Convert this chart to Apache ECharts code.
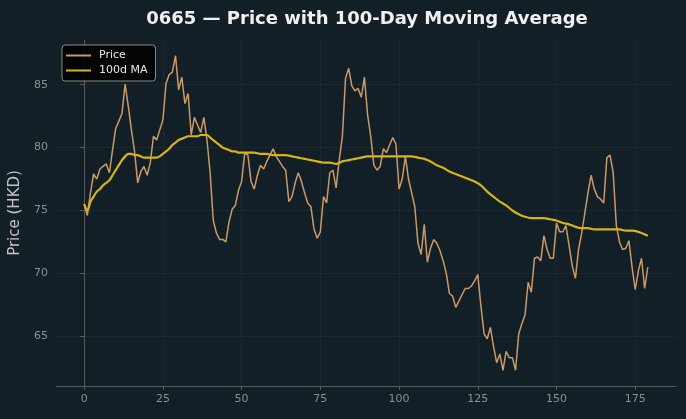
<!DOCTYPE html>
<html>
<head>
<meta charset="utf-8">
<script src="https://cdn.jsdelivr.net/npm/echarts@6/dist/echarts.min.js"></script>
<style>
  html, body { margin: 0; padding: 0; background: #121f26; }
  #chart { width: 686px; height: 419px; }
</style>
</head>
<body>
<div id="chart"></div>
<script>
// daily closing price, day 0..179
const price = [
  75.5, 74.6, 76.4, 77.9, 77.5, 78.3, 78.5, 78.7, 78.0, 79.8,
  81.5, 82.1, 82.7, 85.05, 83.3, 81.4, 79.7, 77.2, 78.1, 78.5,
  77.8, 78.8, 80.9, 80.6, 81.4, 82.2, 85.1, 85.8, 86.0, 87.3,
  84.6, 85.6, 83.5, 84.3, 81.0, 82.4, 81.8, 81.2, 82.4, 80.6,
  78.0, 74.2, 73.2, 72.7, 72.7, 72.5, 74.1, 75.1, 75.4, 76.6,
  77.3, 79.6, 79.4, 77.3, 76.7, 77.8, 78.6, 78.3, 78.9, 79.4,
  79.9, 79.3, 78.9, 78.5, 78.2, 75.7, 76.1, 77.2, 78.0, 77.3,
  76.4, 75.6, 75.3, 73.5, 72.8, 73.3, 76.1, 75.6, 78.0, 78.2,
  76.8, 79.0, 80.9, 85.5, 86.3, 84.9, 84.5, 84.7, 84.0, 85.6,
  82.6, 80.9, 78.6, 78.2, 78.5, 79.9, 79.6, 80.2, 80.8, 80.3,
  76.7, 77.5, 79.3, 77.5, 76.4, 75.3, 72.4, 71.5, 73.9, 70.9,
  72.0, 72.7, 72.4, 71.8, 71.0, 70.0, 68.4, 68.2, 67.3, 67.8,
  68.3, 68.8, 68.8, 69.0, 69.4, 69.9, 67.4, 65.2, 64.8, 65.7,
  64.2, 62.9, 63.6, 62.3, 63.8, 63.3, 63.3, 62.3, 65.2, 66.0,
  66.7, 69.3, 68.5, 71.2, 71.3, 71.0, 73.0, 71.9, 71.2, 71.2,
  74.0, 73.3, 73.3, 73.8, 72.2, 70.6, 69.6, 71.9, 73.2, 74.8,
  76.4, 77.8, 76.7, 76.1, 75.9, 75.6, 79.2, 79.4, 78.0, 73.8,
  72.5, 71.9, 72.0, 72.6, 70.5, 68.7, 70.2, 71.2, 68.8, 70.5
];

// 100-day moving average
const maDays = [
  0, 1, 2, 3, 4, 5, 6, 7, 8, 9, 10, 11, 12, 13, 14, 15, 16, 17, 18, 19,
  20, 21, 22, 23, 24, 25, 26, 27, 28, 29, 30, 31, 32, 33, 34, 35, 36, 37, 38, 39,
  40, 41, 42, 43, 44, 45, 46, 47, 48, 49, 50,
  52, 54, 56, 58, 60, 62, 64, 66, 68, 70, 72, 74, 76, 78, 80, 82, 84, 86, 88, 90,
  92, 94, 96, 98, 100, 102, 104, 106, 108, 110, 112, 114, 116, 118, 120, 122, 124, 126, 128, 130,
  132, 134, 136, 138, 140, 142, 144, 146, 148, 150, 152, 154, 156, 158, 160, 162, 164, 166, 168, 170,
  172, 174, 176, 178, 179
];
const maValues = [
  75.5, 75.0, 75.7, 76.1, 76.5, 76.7, 77.0, 77.2, 77.4, 77.8, 78.2, 78.6, 79.0, 79.3, 79.5, 79.5, 79.4, 79.4, 79.3, 79.2,
  79.2, 79.2, 79.2, 79.2, 79.3, 79.5, 79.7, 79.9, 80.2, 80.4, 80.6, 80.7, 80.8, 80.9, 80.9, 80.9, 80.9, 81.0, 81.0, 81.0,
  80.8, 80.6, 80.4, 80.2, 80.0, 79.9, 79.8, 79.7, 79.7, 79.6, 79.6,
  79.6, 79.6, 79.5, 79.5, 79.4, 79.4, 79.4, 79.3, 79.2, 79.1, 79.0, 78.9, 78.8, 78.8, 78.7, 78.9, 79.0, 79.1, 79.2, 79.3,
  79.3, 79.3, 79.3, 79.3, 79.3, 79.3, 79.3, 79.2, 79.1, 78.9, 78.6, 78.4, 78.1, 77.9, 77.7, 77.5, 77.3, 77.0, 76.5, 76.1,
  75.7, 75.4, 75.0, 74.7, 74.5, 74.4, 74.4, 74.4, 74.3, 74.2, 74.0, 73.9, 73.7, 73.6, 73.6, 73.5, 73.5, 73.5, 73.5, 73.5,
  73.4, 73.4, 73.3, 73.1, 73.0
];

const xTicks = [0, 25, 50, 75, 100, 125, 150, 175];
const yTicks = [65, 70, 75, 80, 85];

const font = 'DejaVu Sans';
const chart = echarts.init(document.getElementById('chart'));

chart.setOption({
  backgroundColor: '#121f26',
  animation: false,
  textStyle: { fontFamily: font },
  title: {
    text: '0665 — Price with 100-Day Moving Average',
    left: 362,
    textAlign: 'center',
    top: 5,
    textStyle: { color: '#f0f0f0', fontSize: 18, fontWeight: 'bold', fontFamily: font }
  },
  legend: {
    orient: 'vertical',
    left: 62,
    top: 45,
    padding: [5, 8, 5, 3],
    itemGap: 4,
    itemWidth: 25,
    itemHeight: 10,
    backgroundColor: 'rgba(0,0,0,0.85)',
    borderColor: '#8a8a8a',
    borderWidth: 1,
    borderRadius: 3,
    itemStyle: { color: 'transparent', borderWidth: 0, opacity: 0 },
    textStyle: { color: '#e8e8e8', fontSize: 11, fontFamily: font, padding: [0, 0, 0, 3] },
    data: ['Price', '100d MA']
  },
  grid: { left: 56, right: 10, top: 40, bottom: 33 },
  xAxis: {
    type: 'value',
    min: -8.95,
    max: 187.95,
    axisLine: { lineStyle: { color: '#555a5c' } },
    axisTick: { customValues: xTicks, length: 4, lineStyle: { color: '#555a5c' } },
    axisLabel: { customValues: xTicks, color: '#8e8e8e', fontSize: 11, margin: 8 },
    splitLine: { show: true, lineStyle: { color: '#1a2930' } }
  },
  yAxis: {
    type: 'value',
    min: 61.05,
    max: 88.55,
    name: 'Price (HKD)',
    nameLocation: 'middle',
    nameGap: 29,
    nameTextStyle: { color: '#c4c4c4', fontSize: 15, fontFamily: font },
    axisLine: { show: true, lineStyle: { color: '#555a5c' } },
    axisTick: { show: true, customValues: yTicks, length: 4, lineStyle: { color: '#555a5c' } },
    axisLabel: { customValues: yTicks, color: '#8e8e8e', fontSize: 11, margin: 8 },
    splitLine: { show: true, lineStyle: { color: '#1a2930' } }
  },
  series: [
    {
      name: 'Price',
      type: 'line',
      symbol: 'none',
      data: price.map((v, i) => [i, v]),
      lineStyle: { color: '#c99a68', width: 1.5 },
      itemStyle: { color: '#c99a68' }
    },
    {
      name: '100d MA',
      type: 'line',
      symbol: 'none',
      smooth: 0.3,
      data: maDays.map((d, i) => [d, maValues[i]]),
      lineStyle: { color: '#d8b41c', width: 2.2 },
      itemStyle: { color: '#d8b41c' }
    }
  ]
});
</script>
</body>
</html>
